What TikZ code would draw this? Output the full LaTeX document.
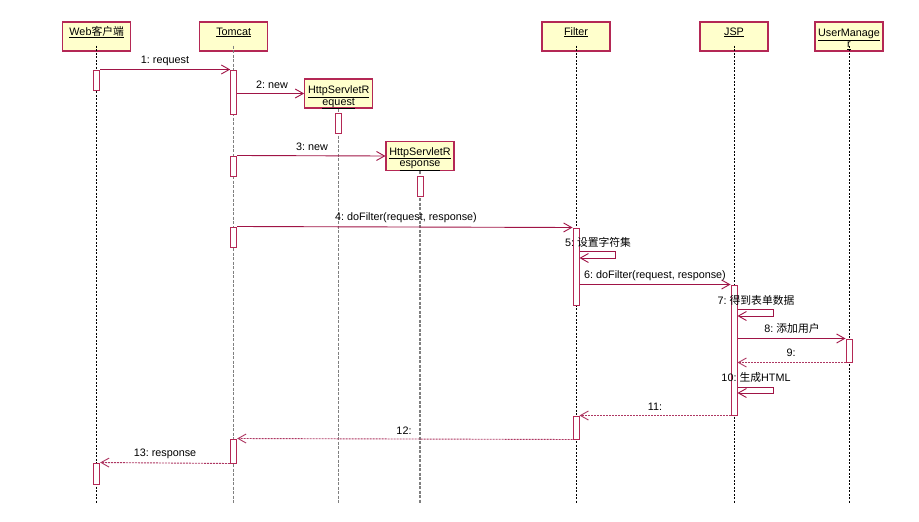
\documentclass[tikz,border=0pt]{standalone}
\usepackage{fontspec}
\setmainfont{Liberation Sans}
\newfontfamily\cjkfont{Noto Sans CJK SC}
\newcommand\zh[1]{{\cjkfont #1}}
\usetikzlibrary{arrows.meta}
\definecolor{boxc}{RGB}{180,40,85}
\definecolor{boxfill}{RGB}{255,255,204}
\definecolor{msgc}{RGB}{160,20,70}
\frenchspacing
\begin{document}
\begin{tikzpicture}[x=1pt,y=-1pt,
  font=\fontsize{10.8}{12.5}\selectfont,
  obj/.style={draw=boxc,fill=boxfill,line width=1.2pt,minimum width=68pt,minimum height=29pt,inner sep=0pt},
  objname/.style={inner sep=0pt,anchor=base},
  act/.style={draw=boxc,fill=white,line width=1pt,minimum width=6pt,inner sep=0pt},
  lifeA/.style={black,line width=0.7pt,dash pattern=on 2pt off 1.5pt},
  lifeB/.style={gray,line width=1.1pt,dash pattern=on 3pt off 1.5pt},
  msg/.style={msgc,line width=0.9pt,-{Straight Barb[length=8pt,width=9pt]}},
  ret/.style={msgc!85,line width=0.9pt,dash pattern=on 2pt off 1pt,-{Straight Barb[length=8pt,width=9pt]}},
  lab/.style={inner sep=0pt,text=black}]
\useasboundingbox (0,0) rectangle (919,522);
\fill[white] (0,0) rectangle (919,522);

% lifeline heads
\node[obj] (web) at (96.7,36.5) {};
\node[objname] (webt) at (96.7,35) {\underline{Web\zh{客户端}}};
\node[obj] (tom) at (233.7,36.5) {};
\node[objname] (tomt) at (233.7,35) {\underline{Tomcat}};
\node[obj] (req) at (338.7,93.5) {};
\node[objname] (reqt1) at (338.7,93.3) {\underline{HttpServletR}};
\node[objname] (reqt2) at (338.7,105) {\underline{equest}};
\node[obj] (resp) at (420,156) {};
\node[objname] (respt1) at (420,155) {\underline{HttpServletR}};
\node[objname] (respt2) at (420,166.7) {\underline{esponse}};
\node[obj] (fil) at (576,36.5) {};
\node[objname] (filt) at (576,35) {\underline{Filter}};
\node[obj] (jsp) at (734,36.5) {};
\node[objname] (jspt) at (734,35) {\underline{JSP}};
\node[obj] (um) at (849,36.5) {};
\node[objname] (umt1) at (849,36.3) {\underline{UserManage}};
\node[objname] (umt2) at (849,47.5) {\underline{r}};

% lifeline ends
\coordinate (webE) at (96.7,504);
\coordinate (tomE) at (233.7,504);
\coordinate (reqE) at (338.7,504);
\coordinate (respE) at (420,504);
\coordinate (filE) at (576,504);
\coordinate (jspE) at (734,504);
\coordinate (umE) at (849,504);

\draw[lifeA] ([yshift=6pt]web.south) -- (webE);
\draw[lifeB] ([yshift=6pt]tom.south) -- (tomE);
\draw[lifeB] (req.south) -- (reqE);
\draw[lifeB] (resp.south) -- (respE);
\draw[lifeA] ([yshift=6pt]fil.south) -- (filE);
\draw[lifeA] ([yshift=6pt]jsp.south) -- (jspE);
\draw[lifeA] ([yshift=6pt]um.south) -- (umE);

% activations
\node[act,minimum height=20pt] (w1) at (96.7,80) {};
\node[act,minimum height=21pt] (w2) at (96.7,473.5) {};
\node[act,minimum height=44pt] (t1) at (233.7,92) {};
\node[act,minimum height=20pt] (t2) at (233.7,166) {};
\node[act,minimum height=20pt] (t3) at (233.7,237) {};
\node[act,minimum height=24pt] (t4) at (233.7,451) {};
\node[act,minimum height=20pt] (rq1) at (338.7,123) {};
\node[act,minimum height=20pt] (rs1) at (420,186) {};
\node[act,minimum height=77pt] (f1) at (576,266.5) {};
\node[act,minimum height=23pt] (f2) at (576,427.5) {};
\node[act,minimum height=130pt] (j1) at (734,350) {};
\node[act,minimum height=23pt] (u1) at (849,350.5) {};

% messages
\draw[msg] (w1.north east) -- (t1.north west);
\node[lab] (m1) at (165,61) {1: request};
\draw[msg] (t1.east |- req.west) -- (req.west);
\node[lab] (m2) at (272,85) {2: new};
\draw[msg] (t2.north east) -- (resp.west);
\node[lab] (m3) at (312,147) {3: new};
\draw[msg] (t3.north east) -- (f1.north west);
\node[lab] (m4) at (406,218) {4: doFilter(request, response)};
% 5 self
\coordinate (s5a) at (615,251);
\coordinate (s5b) at (615,258);
\draw[msg] (f1.east |- s5a) -- (s5a) -- (s5b) -- (f1.east |- s5b);
\node[lab] (m5) at (598,242) {5: \zh{设置字符集}};
\draw[msg] (f1.east |- j1.north) -- (j1.north west);
\node[lab] (m6) at (655,276) {6: doFilter(request, response)};
% 7 self
\coordinate (s7a) at (773,309);
\coordinate (s7b) at (773,316);
\draw[msg] (j1.east |- s7a) -- (s7a) -- (s7b) -- (j1.east |- s7b);
\node[lab] (m7) at (756,300) {7: \zh{得到表单数据}};
\draw[msg] (j1.east |- u1.north) -- (u1.north west);
\node[lab] (m8) at (792,328) {8: \zh{添加用户}};
\draw[ret] (u1.south west) -- (j1.east |- u1.south);
\node[lab] (m9) at (791,353) {9:};
% 10 self
\coordinate (s10a) at (773,387);
\coordinate (s10b) at (773,393);
\draw[msg] (j1.east |- s10a) -- (s10a) -- (s10b) -- (j1.east |- s10b);
\node[lab] (m10) at (756,377) {10: \zh{生成}HTML};
\draw[ret] (j1.south west) -- (f2.north east);
\node[lab] (m11) at (655,407) {11:};
\draw[ret] (f2.south west) -- (t4.north east);
\node[lab] (m12) at (404,431) {12:};
\draw[ret] (t4.south west) -- (w2.north east);
\node[lab] (m13) at (165,454) {13: response};
\end{tikzpicture}
\end{document}
